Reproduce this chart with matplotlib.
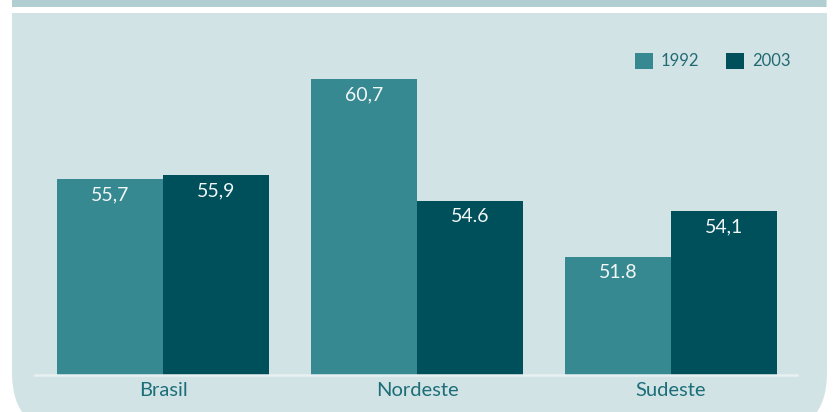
import matplotlib
matplotlib.use("Agg")
import matplotlib.pyplot as plt
from matplotlib.patches import FancyBboxPatch, Rectangle
from matplotlib.transforms import IdentityTransform
import numpy as np

categories = ["Brasil", "Nordeste", "Sudeste"]
series_names = ["1992", "2003"]
values_1992 = [55.7, 60.7, 51.8]
values_2003 = [55.9, 54.6, 54.1]
labels_1992 = ["55,7", "60,7", "51.8"]
labels_2003 = ["55,9", "54.6", "54,1"]

C1992 = "#368891"
C2003 = "#00505c"
PANEL = "#d2e3e6"
BAND = "#b1cfd3"
TXT = "#1c6e78"

W, H = 835, 412
fig = plt.figure(figsize=(W / 100, H / 100), dpi=100)
fig.patch.set_facecolor("white")
plt.rcParams['font.family'] = ['Lato', 'DejaVu Sans']

# panel with rounded bottom corners (pixel coords, origin bottom-left)
R = 60
left, right, bottom, top = 12, 827, -21, H + 80
panel = FancyBboxPatch((left + R, bottom + R), (right - left) - 2 * R, (top - bottom) - 2 * R,
                       boxstyle="round,pad=%d" % R, transform=IdentityTransform(),
                       facecolor=PANEL, edgecolor="none", zorder=0)
fig.patches.append(panel)
fig.patches.append(Rectangle((0, H - 13), W, 6, transform=IdentityTransform(),
                             facecolor="white", edgecolor="none", zorder=1))
fig.patches.append(Rectangle((12, H - 7), 826 - 12, 8, transform=IdentityTransform(),
                             facecolor=BAND, edgecolor="none", zorder=1))

ax = fig.add_axes([35 / W, (H - 375) / H, (797 - 35) / W, (375 - 13) / H])
ax.set_zorder(5)
ax.set_facecolor("none")
x = np.arange(len(categories))
bw = 0.417
b1 = ax.bar(x - bw / 2, values_1992, bw, color=C1992, label=series_names[0], zorder=2)
b2 = ax.bar(x + bw / 2, values_2003, bw, color=C2003, label=series_names[1], zorder=2)
ax.set_ylim(45.9, 64.0)
ax.set_xlim(-0.504, 2.496)

for bars, labs in ((b1, labels_1992), (b2, labels_2003)):
    for r, lab in zip(bars, labs):
        ax.annotate(lab, (r.get_x() + r.get_width() / 2, r.get_height()),
                    xytext=(0, -16), textcoords="offset pixels",
                    ha="center", va="center", color="#f2f7f7", fontsize=14, zorder=3)

for s in ["top", "right", "left"]:
    ax.spines[s].set_visible(False)
ax.spines["bottom"].set_color("#e8f1f2")
ax.spines["bottom"].set_linewidth(1.8)
ax.set_yticks([])
ax.set_xticks(x)
ax.set_xticklabels(categories, fontsize=14.5, color=TXT)
ax.tick_params(axis="x", length=0, pad=5)

leg = ax.legend(handles=[b1, b2], loc="upper right", bbox_to_anchor=(797 / W, (H - 46) / H),
                bbox_transform=fig.transFigure, ncol=2, frameon=False, fontsize=12,
                handlelength=1.1, handleheight=1.1, handletextpad=0.45, columnspacing=1.6,
                labelcolor="#226a73", borderaxespad=0)

fig.savefig("out.png", dpi=100, facecolor="white")
